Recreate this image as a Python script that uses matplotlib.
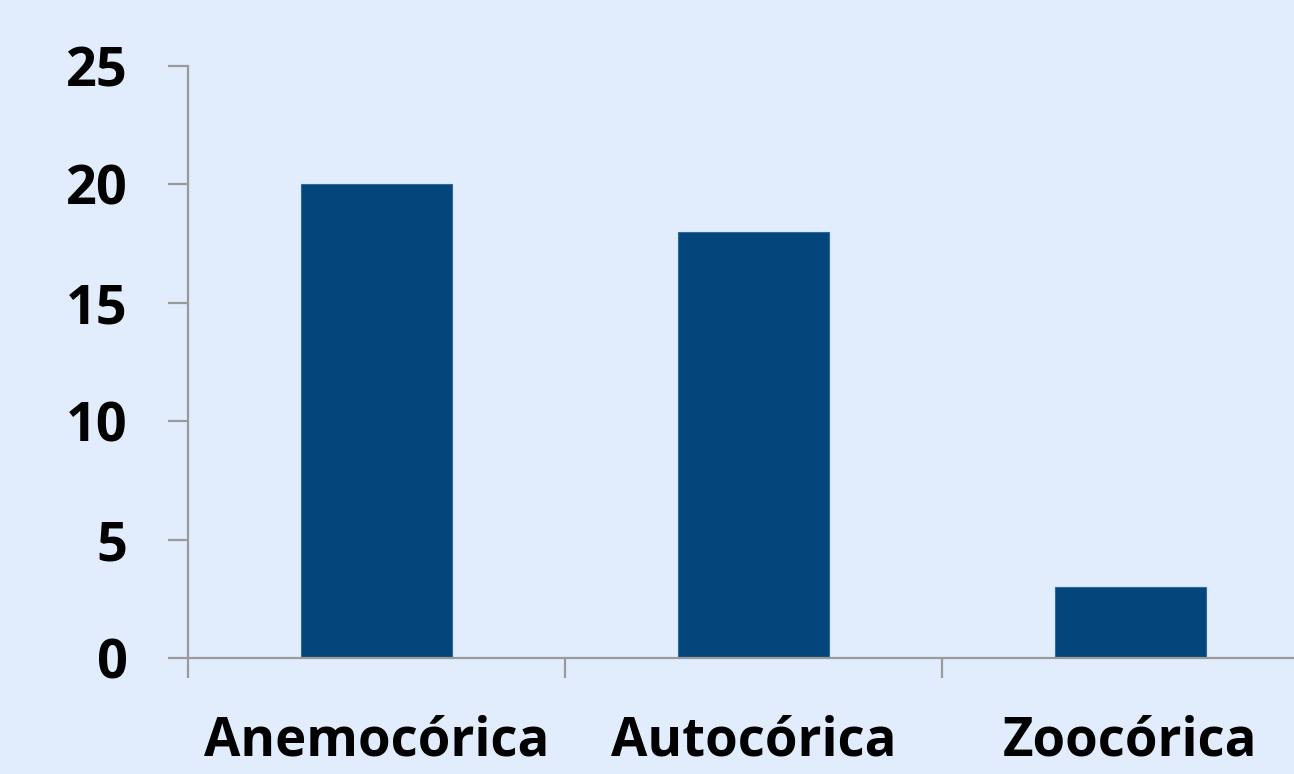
import matplotlib
matplotlib.use("Agg")
import matplotlib.pyplot as plt
import numpy as np

# data
categories = ["Anemocórica", "Autocórica", "Zoocórica"]
values = [20, 18, 3]
y_ticks = [0, 5, 10, 15, 20, 25]

bg = "#e1edfc"
bar_color = "#04467c"
axis_color = "#9a9a9a"


def main():
    plt.rcParams['font.family'] = ['Open Sans', 'DejaVu Sans']
    fig = plt.figure(figsize=(12.94, 7.74), dpi=100, facecolor=bg)
    # axes run a little past the right edge, as in the original
    ax = fig.add_axes([0.1453, 0.1499, 0.874, 0.7649])
    ax.set_facecolor(bg)

    x = np.arange(len(categories))
    ax.bar(x, values, width=0.4, color=bar_color, edgecolor="#2f6a9e", linewidth=0.8, zorder=2)

    ax.set_xlim(-0.5, len(categories) - 0.5)
    ax.set_ylim(0, 25)
    ax.set_yticks(y_ticks)
    ax.set_xticks(x)
    ax.set_xticklabels(categories)
    ax.set_xticks(np.arange(len(categories) + 1) - 0.5, minor=True)

    for side in ["top", "right"]:
        ax.spines[side].set_visible(False)
    for side in ["left", "bottom"]:
        ax.spines[side].set_color(axis_color)
        ax.spines[side].set_linewidth(1.6)

    ax.tick_params(axis="y", length=14.4, width=1.6, color=axis_color, pad=29,
                   labelsize=39, labelcolor="black")
    ax.tick_params(axis="x", which="major", length=0, pad=41, labelsize=38)
    ax.tick_params(axis="x", which="minor", length=14.4, width=1.6, color=axis_color)
    for lab in ax.get_xticklabels() + ax.get_yticklabels():
        lab.set_fontweight("bold")

    fig.savefig("out.png", dpi=100, facecolor=bg)


if __name__ == "__main__":
    main()
